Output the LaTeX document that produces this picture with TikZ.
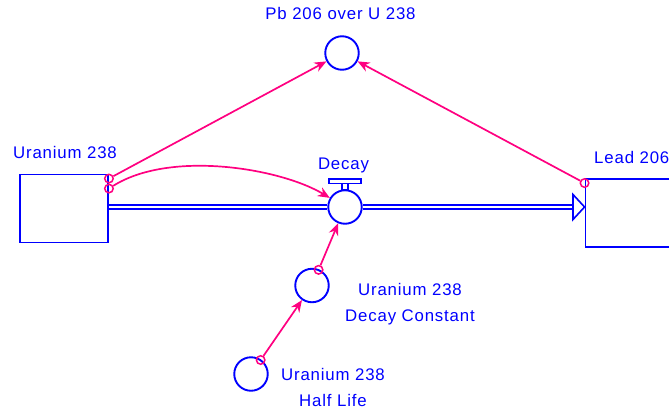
\documentclass[tikz,border=0pt]{standalone}
\usepackage{fontspec}
\setmainfont[LetterSpace=5]{Liberation Sans}
\usepackage{tikz}
\usetikzlibrary{calc,arrows.meta,positioning}
\definecolor{flowc}{HTML}{0000FF}
\definecolor{linkc}{HTML}{FF0080}
\tikzset{
  stk/.style={draw=flowc,line width=1.9pt,minimum width=88pt,minimum height=68pt,inner sep=0pt},
  cv/.style={circle,draw=flowc,line width=1.9pt,minimum size=33.5pt,inner sep=0pt},
  lnk/.style={-{Stealth[length=12pt,width=10pt]},line width=1.7pt,linkc},
  hk/.style={circle,draw=linkc,line width=1.5pt,minimum size=8.5pt,inner sep=0pt},
  pipe/.style={draw=flowc,double=white,double distance=2.5pt,line width=1.6pt},
  lbl/.style={text=flowc,font=\fontsize{16.8}{26}\selectfont,anchor=base,align=center,inner sep=0pt}
}

\begin{document}
\begin{tikzpicture}[x=1pt,y=-1pt]
\clip (0,0) rectangle (669,410);
% stocks, flow valve and converters
\node[stk] (us) at (64,208.5) {};
\node[stk] (ls) at (629.5,213) {};
\node[cv] (dv) at (345,207) {};
\node[cv] (pb) at (342,53) {};
\node[cv] (dk) at (312,285.5) {};
\node[cv] (hl) at (251,374) {};
% labels (base is the last line)
\node[lbl] (tpb) at (340.5,19.5) {Pb 206 over U 238};
\node[lbl] (tus) at (65,158) {Uranium 238};
\node[lbl] (tdv) at (343.5,169) {Decay};
\node[lbl,anchor=base west] (tls) at (594,163) {Lead 206};
\node[lbl] (tdk) at (410,321) {Uranium 238\\Decay Constant};
\node[lbl] (thl) at (333,406.7) {Uranium 238\\Half Life};
% pipe with valve and open head
\coordinate (fe) at (573,207);
\draw[pipe] (us.east |- dv) -- (dv.west);
\draw[pipe] (dv.east) -- (fe);
\draw[flowc,line width=1.6pt,line join=miter] ($(fe)+(0,-12.5)$) -- (ls.west |- fe) -- ($(fe)+(0,12.5)$) -- cycle;
\draw[flowc,line width=1.6pt,fill=white] ($(dv.north)+(-3,0)$) rectangle ++(6,-6);
\draw[flowc,line width=1.6pt,fill=white] ($(dv.north)+(-16,-6)$) rectangle ++(32,-4.5);
% connector starts
\node[hk] (h1) at ($(us.north east)+(0,5)$) {};
\node[hk] (h2) at ($(us.north east)+(0,15)$) {};
\node[hk] (h3) at ($(ls.north west)+(0,5)$) {};
\node[hk] (h4) at ($(dk)!17pt!(dv)$) {};
\node[hk] (h5) at ($(hl)!17pt!(dk)$) {};
% connectors
\draw[lnk] (h1) -- (pb);
\draw[lnk] (h2) .. controls (170,150) and (280,168) .. (dv);
\draw[lnk] (h3) -- (pb);
\draw[lnk] (h4) -- (dv);
\draw[lnk] (h5) -- (dk);
\end{tikzpicture}
\end{document}
